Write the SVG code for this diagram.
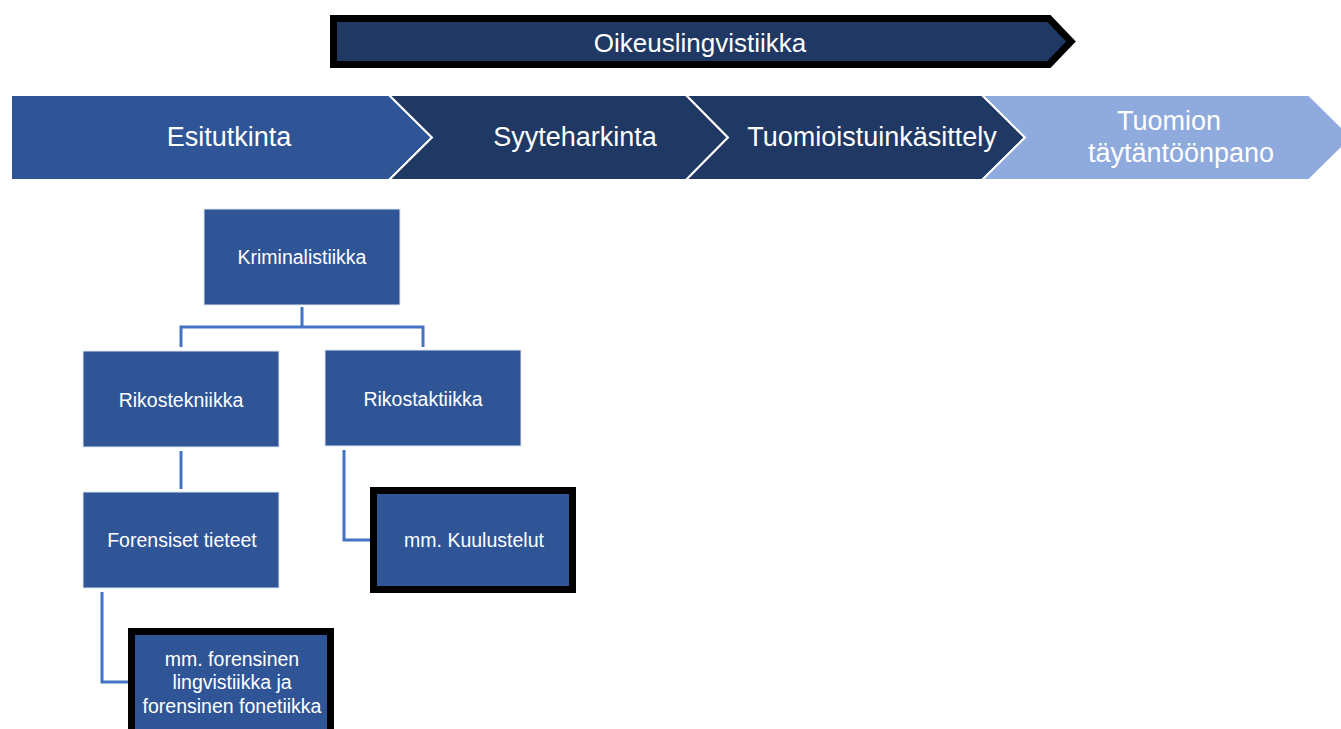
<svg xmlns="http://www.w3.org/2000/svg" width="1341" height="729" viewBox="0 0 1341 729">
<style>
text{font-family:"Liberation Sans",Arial,sans-serif;fill:#fff;text-anchor:middle}
.big{font-size:26px}
.chv{font-size:27px}
.sm{font-size:19.5px}
.box{fill:#2F5597;stroke:#dfe6f2;stroke-width:1}
.hl{fill:#2F5597;stroke:#000;stroke-width:7}
.con{fill:none;stroke:#4472C4;stroke-width:3}
.chev{stroke:#fff;stroke-width:2}
</style>
<rect width="1341" height="729" fill="#fff"/>
<g id="oikeuslingvistiikka">
<polygon points="333.5,18.5 1049,18.5 1071,41.5 1049,64.5 333.5,64.5" fill="#203864" stroke="#000" stroke-width="7"/>
<text class="big" x="700" y="52">Oikeuslingvistiikka</text>
</g>
<g id="esitutkinta">
<polygon class="chev" points="11,95 389,95 432,137.5 389,180 11,180" fill="#2F5597"/>
<text class="chv" x="229" y="146">Esitutkinta</text>
</g>
<g id="syyteharkinta">
<polygon class="chev" points="389,95 686,95 728,137.5 686,180 389,180 432,137.5" fill="#203864"/>
<text class="chv" x="575" y="146">Syyteharkinta</text>
</g>
<g id="tuomioistuinkasittely">
<polygon class="chev" points="686,95 982,95 1025,137.5 982,180 686,180 728,137.5" fill="#203864"/>
<text class="chv" x="872" y="146">Tuomioistuinkäsittely</text>
</g>
<g id="tuomion-taytantoonpano">
<polygon class="chev" points="982,95 1309,95 1352,137.5 1309,180 982,180 1025,137.5" fill="#8FAADC"/>
<text class="chv" x="1169" y="130">Tuomion</text>
<text class="chv" x="1181" y="162">täytäntöönpano</text>
</g>
<g id="connectors">
<path class="con" d="M302,307 V327 M181,347 V327 H423 V347"/>
<path class="con" d="M181,451 V489"/>
<path class="con" d="M344,450 V540 H370"/>
<path class="con" d="M102,592 V682 H128"/>
</g>
<g id="kriminalistiikka">
<rect class="box" x="204" y="209" width="196" height="96"/>
<text class="sm" x="302" y="264">Kriminalistiikka</text>
</g>
<g id="rikostekniikka">
<rect class="box" x="83" y="351" width="196" height="96"/>
<text class="sm" x="181" y="407">Rikostekniikka</text>
</g>
<g id="rikostaktiikka">
<rect class="box" x="325" y="350" width="196" height="96"/>
<text class="sm" x="423" y="406">Rikostaktiikka</text>
</g>
<g id="forensiset-tieteet">
<rect class="box" x="83" y="492" width="196" height="96"/>
<text class="sm" x="182" y="547">Forensiset tieteet</text>
</g>
<g id="kuulustelut">
<rect class="hl" x="373.5" y="490.5" width="199" height="99"/>
<text class="sm" x="474" y="547">mm. Kuulustelut</text>
</g>
<g id="forensinen-lingvistiikka">
<rect class="hl" x="131.5" y="631.5" width="199" height="110"/>
<text class="sm" x="232" y="666">mm. forensinen</text>
<text class="sm" x="232" y="689">lingvistiikka ja</text>
<text class="sm" x="232" y="713">forensinen fonetiikka</text>
</g>
</svg>
